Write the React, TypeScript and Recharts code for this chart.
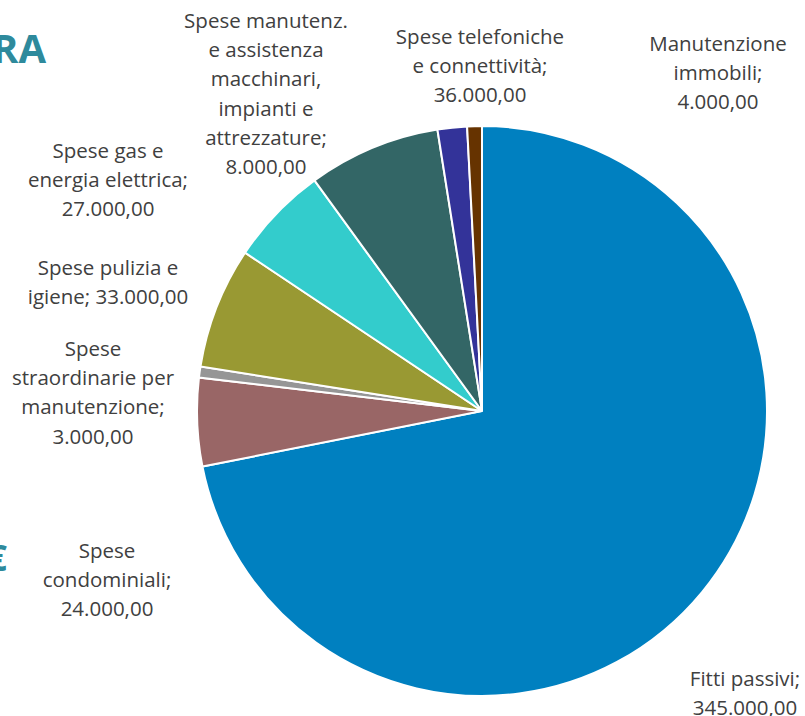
import { PieChart, Pie, Cell } from 'recharts';

const CATEGORIES = [
  'Fitti passivi',
  'Spese condominiali',
  'Spese straordinarie per manutenzione',
  'Spese pulizia e igiene',
  'Spese gas e energia elettrica',
  'Spese telefoniche e connettività',
  'Spese manutenz. e assistenza macchinari, impianti e attrezzature',
  'Manutenzione immobili',
];

const VALUES = [345000, 24000, 3000, 33000, 27000, 36000, 8000, 4000];

// how each data label is broken into lines; {v} is replaced by the value
const LABEL_LINES = [
  ['Fitti passivi;', '{v}'],
  ['Spese', 'condominiali;', '{v}'],
  ['Spese', 'straordinarie per', 'manutenzione;', '{v}'],
  ['Spese pulizia e', 'igiene; {v}'],
  ['Spese gas e', 'energia elettrica;', '{v}'],
  ['Spese telefoniche', 'e connettività;', '{v}'],
  ['Spese manutenz.', 'e assistenza', 'macchinari,', 'impianti e', 'attrezzature;', '{v}'],
  ['Manutenzione', 'immobili;', '{v}'],
];

const COLORS = ['#0080C0', '#996666', '#969696', '#999933', '#33CCCC', '#336666', '#333399', '#663300'];

// where Excel placed each label (center of the first line)
const LABEL_POS = [
  { x: 745, y: 678 },
  { x: 107, y: 550 },
  { x: 93, y: 348 },
  { x: 108, y: 267 },
  { x: 108, y: 150 },
  { x: 480, y: 36 },
  { x: 266, y: 20 },
  { x: 718, y: 43 },
];

const FONT = '"Open Sans", sans-serif';

const fmt = (v: number) => {
  const int = Math.floor(v).toString().replace(/\B(?=(\d{3})+(?!\d))/g, '.');
  return `${int},00`;
};

const data = CATEGORIES.map((name, i) => ({ name, value: VALUES[i] }));

const renderLabel = (props: any) => {
  const i = props.index;
  const pos = LABEL_POS[i];
  const lines = LABEL_LINES[i].map((l) => l.replace('{v}', fmt(VALUES[i])));
  return (
    <text
      key={`lbl-${i}`}
      x={pos.x}
      y={pos.y}
      textAnchor="middle"
      fill="#404040"
      fontSize={20.5}
      fontFamily={FONT}
      dominantBaseline="central"
    >
      {lines.map((l, j) => (
        <tspan key={j} x={pos.x} dy={j === 0 ? 0 : 29.2}>
          {l}
        </tspan>
      ))}
    </text>
  );
};

export default function App() {
  return (
    <div style={{ position: 'absolute', left: 0, top: 0, width: 805, height: 716, background: '#fff', overflow: 'hidden' }}>
      <div
        style={{
          position: 'absolute',
          left: -8,
          top: 24,
          fontFamily: FONT,
          fontWeight: 700,
          fontSize: 40,
          color: '#2E8A9C',
          lineHeight: '48px',
        }}
      >
        RA
      </div>
      <div
        style={{
          position: 'absolute',
          left: -13,
          top: 535,
          fontFamily: FONT,
          fontWeight: 700,
          fontSize: 35,
          color: '#2E8A9C',
          lineHeight: '46px',
        }}
      >
        €
      </div>
      <PieChart width={805} height={716} style={{ position: 'absolute', left: 0, top: 0 }}>
        <Pie
          data={data}
          dataKey="value"
          nameKey="name"
          cx={477}
          cy={406}
          outerRadius={285}
          startAngle={90}
          endAngle={-270}
          stroke="#ffffff"
          strokeWidth={2}
          label={renderLabel}
          labelLine={false}
          isAnimationActive={false}
        >
          {data.map((d, i) => (
            <Cell key={d.name} fill={COLORS[i]} />
          ))}
        </Pie>
      </PieChart>
    </div>
  );
}
